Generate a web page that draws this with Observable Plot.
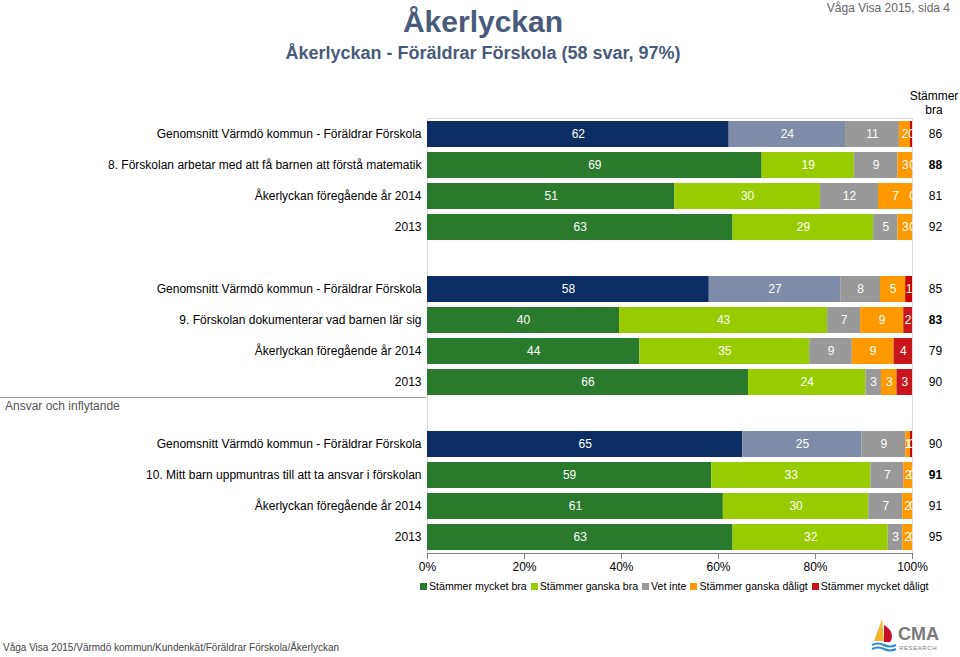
<!DOCTYPE html>
<html>
<head>
<meta charset="utf-8">
<script src="https://cdn.jsdelivr.net/npm/d3@7"></script>
<script src="https://cdn.jsdelivr.net/npm/@observablehq/plot@0.6"></script>
<style>
  html, body { margin: 0; padding: 0; background: #fff; }
  #page { position: relative; width: 960px; height: 657px; overflow: hidden; font-family: "Liberation Sans", Arial, sans-serif; }
  .abs { position: absolute; white-space: nowrap; }
  #title { left: 0; width: 966px; top: 5px; text-align: center; font-size: 30px; font-weight: bold; color: #4a5a7c; }
  #subtitle { left: 0; width: 966px; top: 43px; text-align: center; font-size: 18px; font-weight: bold; color: #4a5a7c; }
  #page-no { right: 10px; top: 1px; font-size: 12px; color: #666; }
  #hdr { left: 904px; width: 60px; top: 89px; text-align: center; font-size: 12px; line-height: 14px; color: #000; }
  #group-line { left: 0; top: 397px; width: 426px; height: 0; border-top: 1px solid #a0a0a0; }
  #group-label { left: 5px; top: 399px; font-size: 12px; color: #555; }
  #chart { left: 0; top: 90px; }
  #legend { left: 420px; top: 580px; font-size: 10.6px; color: #000; display: flex; gap: 4px; }
  #legend span.sw { display: inline-block; width: 7px; height: 7px; margin-right: 2px; vertical-align: 0px; }
  #footer { left: 3px; top: 642px; font-size: 10px; color: #444; }
  #logo { left: 870px; top: 615px; }
</style>
</head>
<body>
<div id="page">
  <div id="title" class="abs">Åkerlyckan</div>
  <div id="subtitle" class="abs">Åkerlyckan - Föräldrar Förskola (58 svar, 97%)</div>
  <div id="page-no" class="abs">Våga Visa 2015, sida 4</div>
  <div id="hdr" class="abs">Stämmer<br>bra</div>
  <div id="chart" class="abs"></div>
  <div id="group-line" class="abs"></div>
  <div id="group-label" class="abs">Ansvar och inflytande</div>
  <div id="legend" class="abs"></div>
  <div id="footer" class="abs">Våga Visa 2015/Värmdö kommun/Kundenkät/Föräldrar Förskola/Åkerlyckan</div>
  <svg id="logo" class="abs" width="80" height="42" viewBox="0 0 80 42">
    <path d="M12 4 L4 26 L14 26 Z" fill="#f2b630"/>
    <path d="M14 10 C22 14 24 22 20 27 L14 27 Z" fill="#c8102e"/>
    <path d="M2 30 Q8 27 14 30 T26 30" stroke="#2a8bd0" stroke-width="2" fill="none"/>
    <path d="M2 34 Q8 31 14 34 T26 34" stroke="#2a8bd0" stroke-width="2" fill="none"/>
    <text x="28" y="25" font-family="Liberation Sans, Arial, sans-serif" font-weight="bold" font-size="18" fill="#7a7a7a">CMA</text>
    <text x="29" y="35" font-family="Liberation Sans, Arial, sans-serif" font-size="6" letter-spacing="0.6" fill="#7a7a7a">RESEARCH</text>
  </svg>
</div>
<script>
// ---- data ----
const categories = ["Stämmer mycket bra", "Stämmer ganska bra", "Vet inte", "Stämmer ganska dåligt", "Stämmer mycket dåligt"];

const avgLabel = "Genomsnitt Värmdö kommun - Föräldrar Förskola";
const questions = [
  "8. Förskolan arbetar med att få barnen att förstå matematik",
  "9. Förskolan dokumenterar vad barnen lär sig",
  "10. Mitt barn uppmuntras till att ta ansvar i förskolan"
];
const prevLabel = "Åkerlyckan föregående år 2014";
const olderLabel = "2013";

// rows per question: [genomsnitt, 2015, 2014, 2013]
const q8Values = [
  [62.2, 24.0, 11.1, 2.3, 0.4],
  [69, 19, 9, 3, 0],
  [51, 30, 12, 7, 0],
  [63, 29, 5, 3, 0]
];
const q9Values = [
  [58.1, 27.1, 8.2, 5.2, 1.4],
  [39.6, 42.9, 6.8, 8.9, 1.8],
  [43.8, 35.0, 8.8, 8.6, 3.8],
  [66.2, 24.2, 3.2, 3.2, 3.2]
];
const q10Values = [
  [65.0, 24.6, 9.0, 1.0, 0.4],
  [58.6, 32.8, 6.8, 1.8, 0],
  [61, 30, 7, 2, 0],
  [63, 32, 3, 2, 0]
];
const q8Totals = [86, 88, 81, 92];
const q9Totals = [85, 83, 79, 90];
const q10Totals = [90, 91, 91, 95];

const xTicks = [0, 20, 40, 60, 80, 100];

// ---- styles ----
const avgColors = ["#0b2d63", "#7f8ba8", "#999999", "#ff9900", "#c80000"];
const mainColors = ["#2a7a2e", "#99cc00", "#999999", "#ff9900", "#c8171c"];

// ---- build table ----
const groups = [
  {q: questions[0], values: q8Values, totals: q8Totals},
  {q: questions[1], values: q9Values, totals: q9Totals},
  {q: questions[2], values: q10Values, totals: q10Totals}
];
const slots = [];
const slotLabel = {};
const segs = [];
const totals = [];
groups.forEach((g, gi) => {
  const labels = [avgLabel, g.q, prevLabel, olderLabel];
  labels.forEach((lab, ri) => {
    const slot = `g${gi}r${ri}`;
    slots.push(slot);
    slotLabel[slot] = lab;
    g.values[ri].forEach((v, ci) => {
      segs.push({slot, cat: ci, value: v, color: ri === 0 ? avgColors[ci] : mainColors[ci]});
    });
    totals.push({slot, total: g.totals[ri], bold: ri === 1});
  });
  if (gi < groups.length - 1) { const gap = `gap${gi}`; slots.push(gap); slotLabel[gap] = ""; }
});

const chart = Plot.plot({
  width: 960,
  height: 485,
  marginLeft: 427,
  marginRight: 48,
  marginTop: 28,
  marginBottom: 22,
  style: {fontFamily: '"Liberation Sans", Arial, sans-serif', fontSize: "12px", color: "#000", background: "transparent"},
  x: {domain: [0, 100], ticks: xTicks},
  y: {domain: slots, paddingInner: 0.16, paddingOuter: 0.08},
  color: {type: "identity"},
  marks: [
    Plot.frame({stroke: "#d9d9d9"}),
    Plot.barX(segs, Plot.stackX({x: "value", y: "slot", fill: "color", order: null})),
    Plot.text(segs, Plot.stackX({x: "value", y: "slot", text: d => String(Math.round(d.value)), fill: "white", fontSize: 12, order: null})),
    Plot.text(totals.filter(d => !d.bold), {x: () => 100, y: "slot", text: d => String(d.total), dx: 23, fontSize: 12, fill: "#000"}),
    Plot.text(totals.filter(d => d.bold), {x: () => 100, y: "slot", text: d => String(d.total), dx: 23, fontSize: 12, fontWeight: "bold", fill: "#000"}),
    Plot.axisY({tickSize: 0, tickPadding: 6, tickFormat: s => slotLabel[s], fontSize: 12, label: null}),
    Plot.axisX({ticks: xTicks, tickFormat: d => d + "%", tickSize: 6, tickPadding: 3, stroke: "#808080", fontSize: 12, label: null})
  ]
});
document.getElementById("chart").appendChild(chart);

// bottom axis line
d3.select(chart).append("line")
  .attr("x1", 427).attr("x2", 912).attr("y1", 463.5).attr("y2", 463.5)
  .attr("stroke", "#808080");

// legend
const legend = document.getElementById("legend");
categories.forEach((c, i) => {
  const item = document.createElement("div");
  item.innerHTML = `<span class="sw" style="background:${mainColors[i]}"></span>${c}`;
  legend.appendChild(item);
});
</script>
</body>
</html>
